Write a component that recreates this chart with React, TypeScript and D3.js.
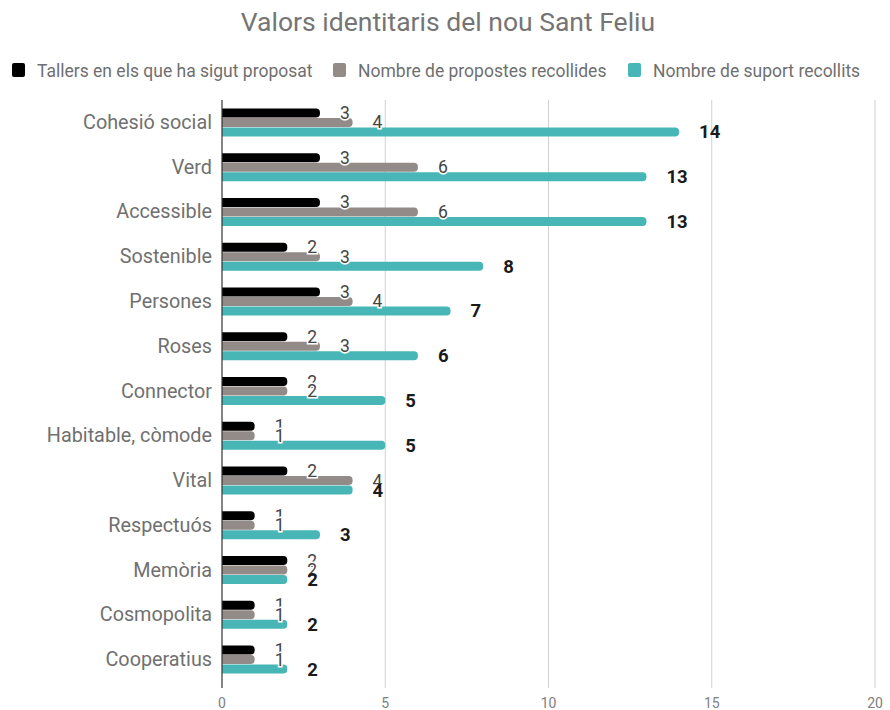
import React from "react";
import * as d3 from "d3";

const categories = [
  "Cohesió social", "Verd", "Accessible", "Sostenible", "Persones", "Roses", "Connector",
  "Habitable, còmode", "Vital", "Respectuós", "Memòria", "Cosmopolita", "Cooperatius",
];
const tallers = [3, 3, 3, 2, 3, 2, 2, 1, 2, 1, 2, 1, 1];
const propostes = [4, 6, 6, 3, 4, 3, 2, 1, 4, 1, 2, 1, 1];
const suport = [14, 13, 13, 8, 7, 6, 5, 5, 4, 3, 2, 2, 2];
const xTicks = [0, 5, 10, 15, 20];

const seriesNames = [
  "Tallers en els que ha sigut proposat",
  "Nombre de propostes recollides",
  "Nombre de suport recollits",
];
const colors = ["#000000", "#938b87", "#48b5b6"];
const font = "Roboto, 'Noto Sans', sans-serif";

export default function App() {
  const width = 890;
  const height = 710;
  const left = 222;
  const right = 875;
  const top = 100;
  const bottom = 682;

  const x = d3.scaleLinear().domain([0, 20]).range([left, right]);
  const y = d3.scaleBand<string>().domain(categories).range([top, bottom]);
  const barH = 9;
  const series = [tallers, propostes, suport];
  const legendX = [12, 333, 628];

  return (
    <svg width={width} height={height} style={{ position: "absolute", left: 0, top: 0, background: "#fff" }}>
      <text x={448} y={31} textAnchor="middle" fontFamily={font} fontSize={26.5} fill="#757575">
        Valors identitaris del nou Sant Feliu
      </text>

      {seriesNames.map((n, i) => (
        <g key={n}>
          <rect x={legendX[i]} y={63} width={13} height={14} rx={2} fill={colors[i]} />
          <text x={legendX[i] + 25} y={77} fontFamily={font} fontSize={17.5} fill="#6f6f6f">{n}</text>
        </g>
      ))}

      {xTicks.map((t) => (
        <g key={t}>
          {t > 0 && <line x1={x(t)} x2={x(t)} y1={top} y2={688} stroke="#d0d0d0" strokeWidth={1} />}
          <text x={x(t)} y={708} textAnchor="middle" fontFamily={font} fontSize={14} fill="#808080">{t}</text>
        </g>
      ))}

      {categories.map((c, ci) => {
        const cy = (y(c) ?? 0) + y.bandwidth() / 2;
        return (
          <g key={c}>
            <text x={212} y={cy + 6.5} textAnchor="end" fontFamily={font} fontSize={19.8} fill="#707070">{c}</text>
            {series.map((s, si) => {
              const by = cy - 14 + si * 9.5;
              const w = x(s[ci]) - x(0);
              return (
                <path
                  key={si}
                  d={`M${x(0)},${by}H${x(0) + w - 4}A4,4 0 0 1 ${x(0) + w},${by + 4}V${by + barH - 4}A4,4 0 0 1 ${x(0) + w - 4},${by + barH}H${x(0)}Z`}
                  fill={colors[si]}
                />
              );
            })}
          </g>
        );
      })}

      {categories.map((c, ci) => {
        const cy = (y(c) ?? 0) + y.bandwidth() / 2;
        return (
          <g key={c + "-lab"}>
            {series.map((s, si) => {
              const by = cy - 14 + si * 9.5 + barH / 2;
              const bold = si === 2;
              return (
                <text
                  key={si}
                  x={x(s[ci]) + 20}
                  y={by + (bold ? 6.5 : 6)}
                  fontFamily={font}
                  fontSize={bold ? 18.5 : 17.5}
                  fontWeight={bold ? 700 : 400}
                  fill={bold ? "#1a1a1a" : "#444"}
                  stroke="#fff"
                  strokeWidth={bold ? 0 : 3}
                  paintOrder="stroke"
                >
                  {s[ci]}
                </text>
              );
            })}
          </g>
        );
      })}

      <line x1={x(0)} x2={x(0)} y1={top} y2={688} stroke="#333" strokeWidth={1.2} />
    </svg>
  );
}
